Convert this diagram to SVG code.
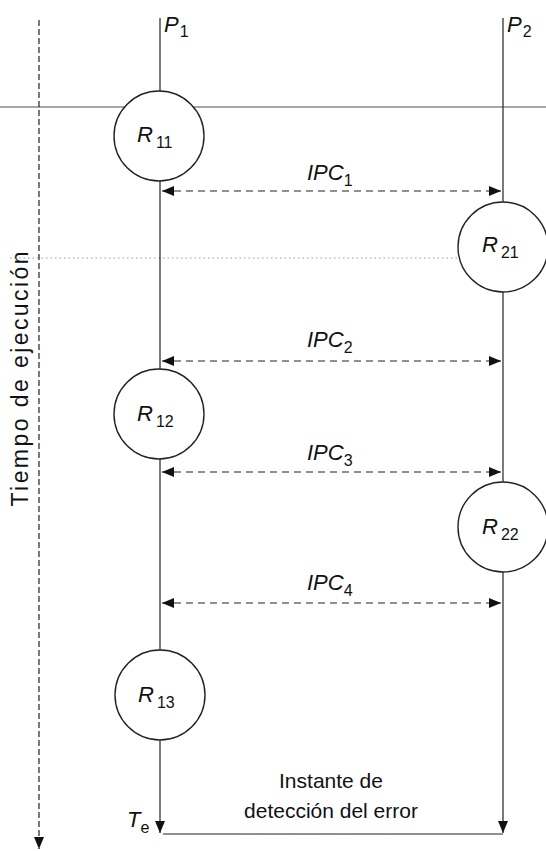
<svg xmlns="http://www.w3.org/2000/svg" width="546" height="851" viewBox="0 0 546 851">
<defs>
<style>
.bg{fill:#fff}
.proc{stroke:#222;stroke-width:1.2;fill:none}
.node{fill:#fff;stroke:#222;stroke-width:1.4}
.ipc{stroke:#222;stroke-width:1.2;stroke-dasharray:7 5;fill:none}
.axis{stroke:#222;stroke-width:1.2;stroke-dasharray:6 3;fill:none}
.guide{stroke:#8a8a8a;stroke-width:1.3;fill:none}
.dots{stroke:#9a9a9a;stroke-width:1;stroke-dasharray:1.5 3;fill:none}
.lbl{font-family:"Liberation Sans",Arial,sans-serif;font-style:italic;font-size:22px;fill:#111}
.sub{font-size:16px;font-style:normal}
.txt{font-family:"Liberation Sans",Arial,sans-serif;font-size:21px;fill:#111}
.ax{font-family:"Liberation Sans",Arial,sans-serif;font-size:23px;fill:#111}
</style>
<marker id="ah" viewBox="0 0 12 10" refX="12" refY="5" markerWidth="12" markerHeight="10" markerUnits="userSpaceOnUse" orient="auto-start-reverse">
<path d="M0,0 L12,5 L0,10 Z" fill="#111"/>
</marker>
</defs>
<rect class="bg" x="0" y="0" width="546" height="851"/>
<g id="guides">
<line class="guide" x1="0" y1="107" x2="546" y2="107"/>
<line class="dots" x1="10" y1="258" x2="546" y2="258"/>
</g>
<g id="axis">
<line class="axis" x1="39" y1="20" x2="39" y2="849" marker-end="url(#ah)"/>
<text class="ax" transform="translate(28,379) rotate(-90)" text-anchor="middle" textLength="255" lengthAdjust="spacing">Tiempo de ejecución</text>
</g>
<g id="connectors">
<line class="proc" x1="160" y1="18" x2="160" y2="91"/>
<line class="proc" x1="160" y1="181" x2="160" y2="369"/>
<line class="proc" x1="160" y1="459" x2="160" y2="650"/>
<line class="proc" x1="160" y1="740" x2="160" y2="833" marker-end="url(#ah)"/>
<line class="proc" x1="503" y1="18" x2="503" y2="202"/>
<line class="proc" x1="503" y1="292" x2="503" y2="482"/>
<line class="proc" x1="503" y1="572" x2="503" y2="833" marker-end="url(#ah)"/>
<line class="proc" x1="163" y1="834" x2="503" y2="834"/>
<line class="ipc" x1="162" y1="191" x2="501" y2="191" marker-start="url(#ah)" marker-end="url(#ah)"/>
<line class="ipc" x1="162" y1="361" x2="501" y2="361" marker-start="url(#ah)" marker-end="url(#ah)"/>
<line class="ipc" x1="162" y1="472" x2="501" y2="472" marker-start="url(#ah)" marker-end="url(#ah)"/>
<line class="ipc" x1="162" y1="603" x2="501" y2="603" marker-start="url(#ah)" marker-end="url(#ah)"/>
</g>
<g id="P1"><text class="lbl" x="164" y="32">P<tspan class="sub" dy="5" dx="1">1</tspan></text></g>
<g id="P2"><text class="lbl" x="507" y="32">P<tspan class="sub" dy="5" dx="1">2</tspan></text></g>
<g id="R11"><circle class="node" cx="159" cy="136" r="45"/><text class="lbl" x="137" y="142">R<tspan class="sub" dy="6" dx="3">11</tspan></text></g>
<g id="R21"><circle class="node" cx="503" cy="247" r="45"/><text class="lbl" x="482" y="252">R<tspan class="sub" dy="6" dx="3">21</tspan></text></g>
<g id="R12"><circle class="node" cx="159" cy="414" r="45"/><text class="lbl" x="137" y="421">R<tspan class="sub" dy="6" dx="3">12</tspan></text></g>
<g id="R22"><circle class="node" cx="503" cy="527" r="45"/><text class="lbl" x="482" y="534">R<tspan class="sub" dy="6" dx="3">22</tspan></text></g>
<g id="R13"><circle class="node" cx="160" cy="695" r="45"/><text class="lbl" x="138" y="702">R<tspan class="sub" dy="6" dx="3">13</tspan></text></g>
<g id="IPC1"><text class="lbl" x="307" y="180">IPC<tspan class="sub" dy="6">1</tspan></text></g>
<g id="IPC2"><text class="lbl" x="307" y="347">IPC<tspan class="sub" dy="6">2</tspan></text></g>
<g id="IPC3"><text class="lbl" x="307" y="460">IPC<tspan class="sub" dy="6">3</tspan></text></g>
<g id="IPC4"><text class="lbl" x="307" y="590">IPC<tspan class="sub" dy="6">4</tspan></text></g>
<g id="Te"><text class="lbl" x="127" y="827">T<tspan class="sub" dy="6">e</tspan></text></g>
<g id="error"><text class="txt" text-anchor="middle"><tspan x="331" y="788">Instante de</tspan><tspan x="331" y="818">detección del error</tspan></text></g>
</svg>
